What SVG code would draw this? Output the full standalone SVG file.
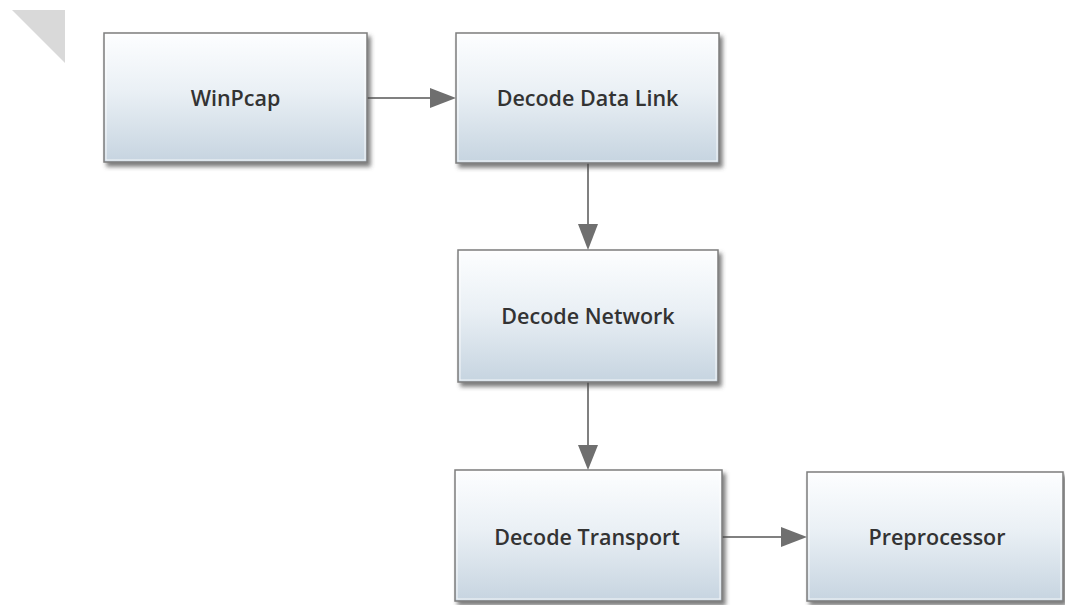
<svg xmlns="http://www.w3.org/2000/svg" width="1065" height="605" viewBox="0 0 1065 605">
<style>
.box{fill:url(#g);stroke:#7d7d7d;stroke-width:1.5;filter:url(#sh)}
.inner{fill:none;stroke:#ffffff;stroke-width:1;opacity:0.8}
.lbl{font-family:"Open Sans","Liberation Sans",sans-serif;font-weight:600;font-size:21.5px;fill:#333;text-anchor:middle}
.con{stroke:#808080;stroke-width:2;fill:none}
.ah{fill:#6f6f6f}
</style>
<defs>
<linearGradient id="g" x1="0" y1="0" x2="0" y2="1">
<stop offset="0" stop-color="#fdfeff"/>
<stop offset="0.45" stop-color="#eaf0f5"/>
<stop offset="1" stop-color="#c6d4e0"/>
</linearGradient>
<filter id="sh" x="-10%" y="-10%" width="130%" height="130%">
<feDropShadow dx="3" dy="4" stdDeviation="2" flood-color="#444" flood-opacity="0.7"/>
</filter>
</defs>
<rect width="1065" height="605" fill="#ffffff"/>
<polygon points="12,10 65,10 65,63" fill="#d9d9d9"/>
<g id="connectors">
<line class="con" x1="367" y1="98" x2="432" y2="98"/>
<polygon class="ah" points="430,88 456,98 430,108"/>
<line class="con" x1="588" y1="163" x2="588" y2="225"/>
<polygon class="ah" points="578,224 598,224 588,250"/>
<line class="con" x1="588" y1="382" x2="588" y2="446"/>
<polygon class="ah" points="578,445 598,445 588,470"/>
<line class="con" x1="722" y1="537" x2="783" y2="537"/>
<polygon class="ah" points="781,527 807,537 781,547"/>
</g>
<g id="winpcap">
<rect class="box" x="104" y="33" width="263" height="129"/>
<rect class="inner" x="106" y="35" width="259" height="125"/>
<text class="lbl" x="235.5" y="106">WinPcap</text>
</g>
<g id="decode-data-link">
<rect class="box" x="456" y="33" width="263" height="130"/>
<rect class="inner" x="458" y="35" width="259" height="126"/>
<text class="lbl" x="587.5" y="106">Decode Data Link</text>
</g>
<g id="decode-network">
<rect class="box" x="458" y="250" width="260" height="132"/>
<rect class="inner" x="460" y="252" width="256" height="128"/>
<text class="lbl" x="588" y="324">Decode Network</text>
</g>
<g id="decode-transport">
<rect class="box" x="455" y="470" width="267" height="131"/>
<rect class="inner" x="457" y="472" width="263" height="127"/>
<text class="lbl" x="587" y="545">Decode Transport</text>
</g>
<g id="preprocessor">
<rect class="box" x="807" y="472" width="256" height="129"/>
<rect class="inner" x="809" y="474" width="252" height="125"/>
<text class="lbl" x="937" y="545">Preprocessor</text>
</g>
</svg>
